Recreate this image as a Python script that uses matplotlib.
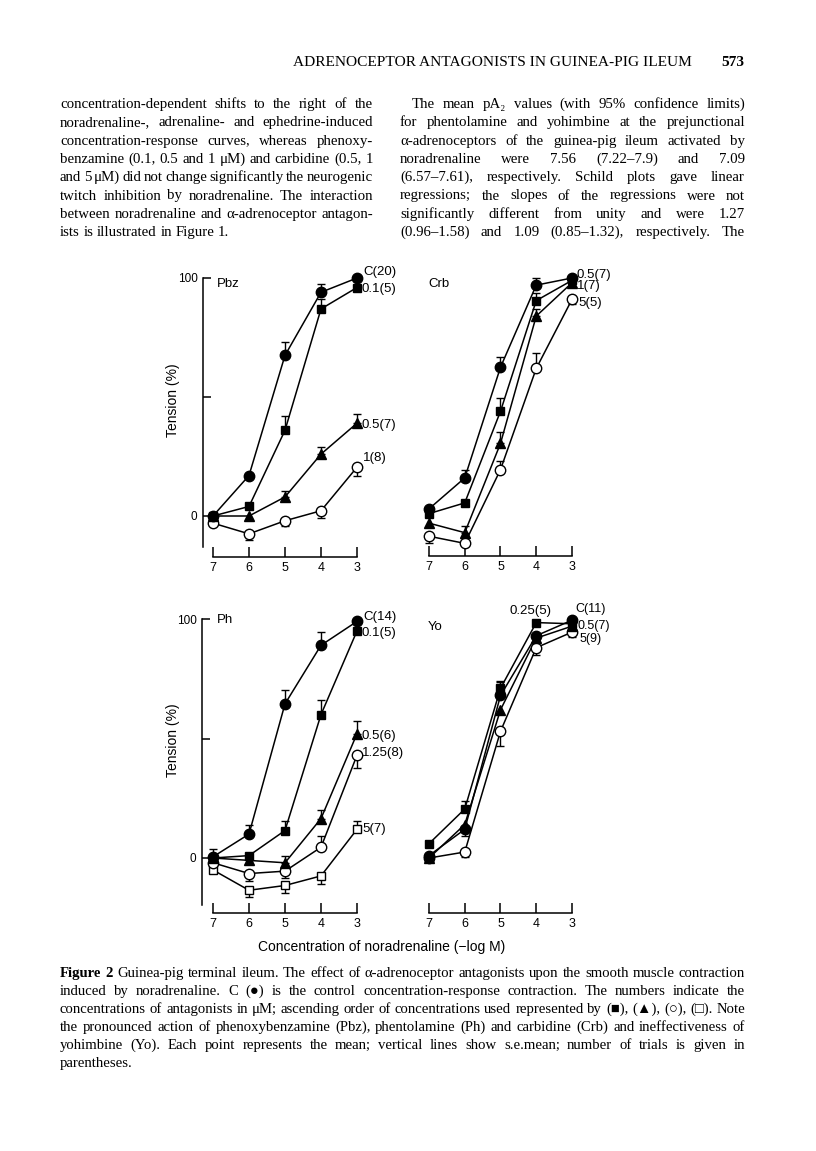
import numpy as np
import matplotlib
matplotlib.use("Agg")
import matplotlib.pyplot as plt

W, H = 816, 1151
SERIF = ["Liberation Serif", "DejaVu Serif", "DejaVu Sans"]
SANS = ["Liberation Sans", "DejaVu Sans"]

# ---- data: -log[noradrenaline] and tension (% of control max) ----
DOSE = [7, 6, 5, 4, 3]

# error values are signed: + means the s.e. line goes up, - goes down
PBZ_C, PBZ_C_E = [0, 17, 67.5, 94, 100], [0, 0, 5.5, 3.5, 0]
PBZ_01, PBZ_01_E = [0, 4, 36, 87, 96], [0, 0, 6, 4, 0]
PBZ_05, PBZ_05_E = [0, 0, 8, 26, 39], [0, 0, 2.6, 3, 4]
PBZ_1, PBZ_1_E = [-3, -7.5, -2, 2.2, 20.5], [0, -2.5, -2.2, -3.2, -3.7]

CRB_C, CRB_C_E = [3, 16, 62.5, 97, 100], [0, 3.4, 4.5, 3, 0]
CRB_05, CRB_05_E = [1, 5.5, 44, 90.5, 99], [0, 0, 5.5, 3, 0]
CRB_1, CRB_1_E = [-3, -7, 30.5, 84, 98], [0, 3, 5, 3, 0]
CRB_5, CRB_5_E = [-8.5, -11.5, 19.5, 62, 91], [-3, 0, 3.5, 6.5, -2]

PH_C, PH_C_E = [0.5, 10, 64.5, 89, 99], [3.4, 3.8, 6, 5.5, 0]
PH_01, PH_01_E = [0, 1, 11.5, 60, 95], [0, 0, 3.8, 6, 0]
PH_05, PH_05_E = [0, -1, -2, 16.5, 52], [0, 0, 3, 3.5, 5.5]
PH_125, PH_125_E = [-2, -6.5, -5.5, 4.5, 43], [0, -3, -3, 4.5, -5.5]
PH_5, PH_5_E = [-5, -13.5, -11.5, -7.5, 12], [0, -3, -3, -3.2, 3.6]

YO_C, YO_C_E = [1, 12, 68, 93, 99.5], [0, -3, 5.5, 0, 0]
YO_025, YO_025_E = [6, 20.5, 71, 98.5, 98], [0, 3.5, 3, 0, 0]
YO_05, YO_05_E = [0, 14, 62, 92, 97], [0, 0, 0, 0, 0]
YO_5, YO_5_E = [0, 2.5, 53, 88, 94.5], [0, -2, -6, -3, -2]

PANEL_NAMES = ["Pbz", "Crb", "Ph", "Yo"]
YLABEL = "Tension (%)"
XLABEL = "Concentration of noradrenaline (\u2212log M)"

HEADER = "ADRENOCEPTOR ANTAGONISTS IN GUINEA-PIG ILEUM"
PAGE = "573"
LEFT_COL = [
    "concentration-dependent shifts to the right of the",
    "noradrenaline-, adrenaline- and ephedrine-induced",
    "concentration-response curves, whereas phenoxy-",
    "benzamine (0.1, 0.5 and 1 \u03bcM) and carbidine (0.5, 1",
    "and 5 \u03bcM) did not change significantly the neurogenic",
    "twitch inhibition by noradrenaline. The interaction",
    "between noradrenaline and \u03b1-adrenoceptor antagon-",
    "ists is illustrated in Figure 1.",
]
RIGHT_COL = [
    "The mean pA\u2082 values (with 95% confidence limits)",
    "for phentolamine and yohimbine at the prejunctional",
    "\u03b1-adrenoceptors of the guinea-pig ileum activated by",
    "noradrenaline were 7.56 (7.22\u20137.9) and 7.09",
    "(6.57\u20137.61), respectively. Schild plots gave linear",
    "regressions; the slopes of the regressions were not",
    "significantly different from unity and were 1.27",
    "(0.96\u20131.58) and 1.09 (0.85\u20131.32), respectively. The",
]
CAPTION = [
    "Figure 2 Guinea-pig terminal ileum. The effect of \u03b1-adrenoceptor antagonists upon the smooth muscle contraction",
    "induced by noradrenaline. C (\u25cf) is the control concentration-response contraction. The numbers indicate the",
    "concentrations of antagonists in \u03bcM; ascending order of concentrations used represented by (\u25a0), (\u25b2), (\u25cb), (\u25a1). Note",
    "the pronounced action of phenoxybenzamine (Pbz), phentolamine (Ph) and carbidine (Crb) and ineffectiveness of",
    "yohimbine (Yo). Each point represents the mean; vertical lines show s.e.mean; number of trials is given in",
    "parentheses.",
]

fig = plt.figure(figsize=(W / 100, H / 100), dpi=100)
fig.patch.set_facecolor("white")
R = fig.canvas.get_renderer()


def fx(px):
    return px / W


def fy(py):
    return 1 - py / H


# ---- justified page text ----
def word_widths(words, size, bold_first=0):
    out = []
    for i, w in enumerate(words):
        t = fig.text(0, 0, w, fontsize=size, family=SERIF,
                     weight="bold" if i < bold_first else "normal")
        out.append(t.get_window_extent(R).width)
        t.remove()
    return out


def fit_size(lines, spans, size, bold_first=0):
    # largest size (<= size) at which every justified line keeps a decent word gap
    for s, (x0, x1) in zip(lines, spans):
        words = s.split(" ")
        while sum(word_widths(words, size, bold_first)) + 0.15 * size * 100 / 72 * (len(words) - 1) > x1 - x0:
            size -= 0.1
    return size


def text_line(s, x0, x1, yb, size, justify=True, bold_first=0):
    words = s.split(" ")
    widths = word_widths(words, size, bold_first)
    gap = (x1 - x0 - sum(widths)) / max(len(words) - 1, 1) if justify else 0.25 * size * 100 / 72
    x = x0
    for i, (w, wd) in enumerate(zip(words, widths)):
        fig.text(fx(x), fy(yb), w, fontsize=size, family=SERIF, va="baseline", ha="left",
                 weight="bold" if i < bold_first else "normal")
        x += wd + gap


fig.text(fx(293), fy(66), HEADER, fontsize=11.1, family=SERIF, va="baseline")
fig.text(fx(744), fy(66), PAGE, fontsize=11.1, family=SERIF, weight="bold", va="baseline", ha="right")

LH = 18.3
l_spans = [(60, 373)] * 8
r_spans = [(412, 745)] + [(400, 745)] * 7
sz = min(fit_size(LEFT_COL[:-1], l_spans, 11.2), fit_size(RIGHT_COL, r_spans, 11.2))
for i, s in enumerate(LEFT_COL):
    text_line(s, l_spans[i][0], l_spans[i][1], 108 + i * LH, sz, justify=i < len(LEFT_COL) - 1)
for i, s in enumerate(RIGHT_COL):
    text_line(s, r_spans[i][0], r_spans[i][1], 108 + i * LH, sz)
for i, s in enumerate(CAPTION):
    text_line(s, 60, 745, 977 + i * 18, 10.6, justify=i < len(CAPTION) - 1,
              bold_first=2 if i == 0 else 0)


# ---- panels ----
def make_panel(x7, x3, y0, y100, left, right, top, bottom, bar_gap, yaxis):
    ux, uy = (x3 - x7) / 4, (y0 - y100) / 100
    ax = fig.add_axes([fx(left), fy(bottom), (right - left) / W, (bottom - top) / H])
    ax.set_xlim(7 - (left - x7) / ux, 7 - (right - x7) / ux)
    ax.set_ylim((y0 - bottom) / uy, (y0 - top) / uy)
    ax.patch.set_alpha(0)
    for s in ("top", "right"):
        ax.spines[s].set_visible(False)
    ax.spines["bottom"].set_position(("outward", bar_gap * 0.72))
    ax.spines["bottom"].set_bounds(3, 7)
    ax.spines["bottom"].set_linewidth(1.1)
    ax.spines["left"].set_linewidth(1.1)
    ax.set_xticks(DOSE)
    ax.set_xticklabels([str(d) for d in DOSE], family=SANS)
    ax.tick_params(axis="x", direction="in", length=7, width=1.1, pad=3.5, labelsize=9)
    if yaxis:
        ax.set_yticks([0, 50, 100])
        ax.set_yticklabels(["0", "", "100"], family=SANS)
        ax.tick_params(axis="y", direction="in", length=6, width=1.1, pad=4, labelsize=8.5)
    else:
        ax.spines["left"].set_visible(False)
        ax.set_yticks([])
    return ax


STYLES = {
    "fc": dict(marker="o", ms=7.5, mfc="k"),
    "fs": dict(marker="s", ms=6, mfc="k"),
    "ft": dict(marker="^", ms=7, mfc="k"),
    "oc": dict(marker="o", ms=7.5, mfc="white"),
    "os": dict(marker="s", ms=6, mfc="white"),
}


def series(ax, y, e, style):
    y, e = np.asarray(y, float), np.asarray(e, float)
    x = np.asarray(DOSE, float)
    m = e != 0
    if m.any():
        lo, hi = np.where(e < 0, -e, 0), np.where(e > 0, e, 0)
        ax.errorbar(x[m], y[m], yerr=[lo[m], hi[m]], fmt="none", ecolor="k",
                    elinewidth=1.0, capsize=2.8, capthick=1.0, zorder=2, clip_on=False)
    ax.plot(x, y, color="k", lw=1.1, zorder=1, clip_on=False)
    ax.plot(x, y, ls="none", mec="k", mew=1.0, zorder=3, clip_on=False, **STYLES[style])


def label(ax, s, x, y, dx, dy, ha="left", size=9.5):
    ax.annotate(s, (x, y), xytext=(dx * 0.72, dy * 0.72), textcoords="offset points",
                ha=ha, va="center", fontsize=size, family=SANS, annotation_clip=False)


ax_pbz = make_panel(213, 357, 516, 278, 203, 365, 278, 547, 10, True)
ax_crb = make_panel(429, 572, 516, 278, 419, 580, 278, 547, 9, False)
ax_ph = make_panel(213, 357, 858, 619, 202, 365, 619, 905, 8, True)
ax_yo = make_panel(429, 572, 858, 619, 419, 580, 619, 905, 8, False)

# Pbz
series(ax_pbz, PBZ_1, PBZ_1_E, "oc")
series(ax_pbz, PBZ_05, PBZ_05_E, "ft")
series(ax_pbz, PBZ_01, PBZ_01_E, "fs")
series(ax_pbz, PBZ_C, PBZ_C_E, "fc")
label(ax_pbz, "C(20)", 3, PBZ_C[-1], 6, 6)
label(ax_pbz, "0.1(5)", 3, PBZ_01[-1], 5, -1)
label(ax_pbz, "0.5(7)", 3, PBZ_05[-1], 5, -2)
label(ax_pbz, "1(8)", 3, PBZ_1[-1], 6, 9)

# Crb
series(ax_crb, CRB_5, CRB_5_E, "oc")
series(ax_crb, CRB_1, CRB_1_E, "ft")
series(ax_crb, CRB_05, CRB_05_E, "fs")
series(ax_crb, CRB_C, CRB_C_E, "fc")
label(ax_crb, "0.5(7)", 3, CRB_C[-1], 5, 3)
label(ax_crb, "1(7)", 3, CRB_1[-1], 5, -3)
label(ax_crb, "5(5)", 3, CRB_5[-1], 6, -4)

# Ph
series(ax_ph, PH_5, PH_5_E, "os")
series(ax_ph, PH_125, PH_125_E, "oc")
series(ax_ph, PH_05, PH_05_E, "ft")
series(ax_ph, PH_01, PH_01_E, "fs")
series(ax_ph, PH_C, PH_C_E, "fc")
label(ax_ph, "C(14)", 3, PH_C[-1], 6, 4)
label(ax_ph, "0.1(5)", 3, PH_01[-1], 5, -2)
label(ax_ph, "0.5(6)", 3, PH_05[-1], 5, -2)
label(ax_ph, "1.25(8)", 3, PH_125[-1], 5, 2)
label(ax_ph, "5(7)", 3, PH_5[-1], 5, 0)

# Yo
series(ax_yo, YO_5, YO_5_E, "oc")
series(ax_yo, YO_05, YO_05_E, "ft")
series(ax_yo, YO_025, YO_025_E, "fs")
series(ax_yo, YO_C, YO_C_E, "fc")
label(ax_yo, "0.25(5)", 4, YO_025[-2], -6, 12, ha="center")
label(ax_yo, "C(11)", 3, YO_C[-1], 3, 11, size=9)
label(ax_yo, "0.5(7)", 3, YO_05[-1], 6, 0, size=9)
label(ax_yo, "5(9)", 3, YO_5[-1], 8, -7, size=9)

for name, (px, py) in zip(PANEL_NAMES, [(217, 284), (428, 284), (217, 620), (428, 627)]):
    fig.text(fx(px), fy(py), name, fontsize=9.5, family=SANS, va="center", ha="left")

for py in (400, 740):
    fig.text(fx(173), fy(py), YLABEL, fontsize=10, family=SANS, rotation=90,
             va="center", ha="center")
fig.text(fx(382), fy(947), XLABEL, fontsize=10, family=SANS, va="center", ha="center")

fig.savefig("out.png", dpi=100, facecolor="white")
